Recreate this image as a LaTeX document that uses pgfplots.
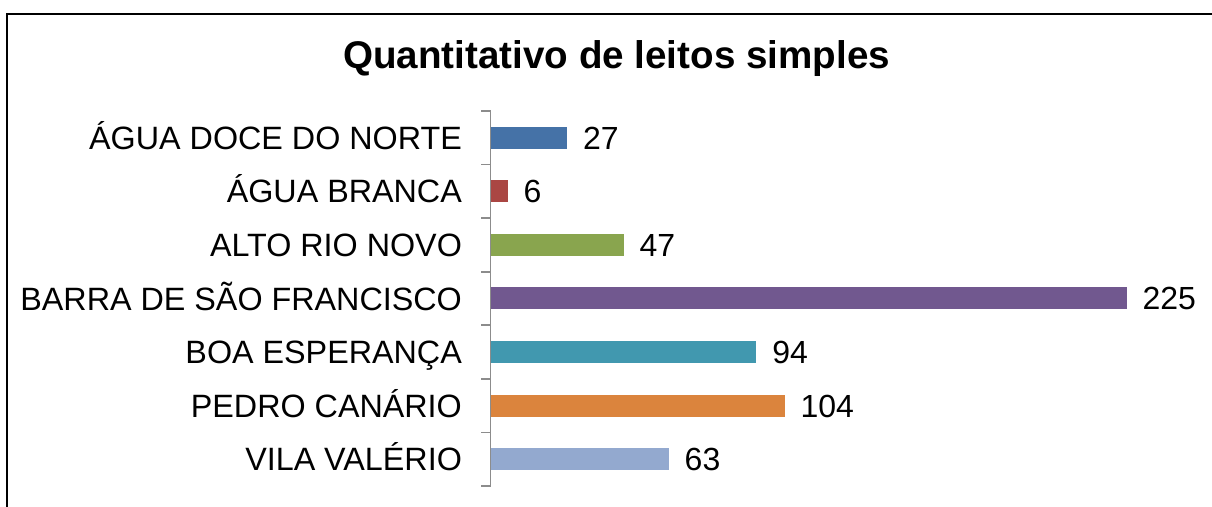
\documentclass[border=0pt]{standalone}
\usepackage{pgfplots}
\pgfplotsset{compat=1.18}
\usepackage{fontspec}
\setmainfont{Liberation Sans}
\definecolor{c1}{HTML}{4572A7}
\definecolor{c2}{HTML}{AA4643}
\definecolor{c3}{HTML}{89A54E}
\definecolor{c4}{HTML}{71588F}
\definecolor{c5}{HTML}{4198AF}
\definecolor{c6}{HTML}{DB843D}
\definecolor{c7}{HTML}{93A9CF}
\definecolor{axgray}{HTML}{8C8C8C}
\begin{document}
\begin{tikzpicture}
\useasboundingbox (0,0) rectangle (606pt,253.5pt);
\draw[line width=1pt,black] (3.4pt,-2pt) -- (3.4pt,246.6pt) -- (610pt,246.6pt);
\node[anchor=base,font=\fontsize{19.3}{23}\selectfont\bfseries,inner sep=0pt] at (308.3pt,219pt) {Quantitativo de leitos simples};
\begin{axis}[
  at={(245.35pt,10.5pt)}, anchor=south west,
  scale only axis, width=353.25pt, height=187.5pt,
  xbar, bar width=11pt,
  xmin=0, xmax=250,
  ymin=-0.5, ymax=6.5, y dir=reverse,
  axis x line=none,
  axis y line*=left,
  y axis line style={draw=axgray,line width=0.8pt},
  ytick={0,1,2,3,4,5,6},
  yticklabels={ÁGUA DOCE DO NORTE,ÁGUA BRANCA,ALTO RIO NOVO,BARRA DE SÃO FRANCISCO,BOA ESPERANÇA,PEDRO CANÁRIO,VILA VALÉRIO},
  major tick length=0pt,
  minor ytick={-0.5,0.5,1.5,2.5,3.5,4.5,5.5,6.5},
  minor tick length=4.8pt,
  tick align=outside,
  every minor tick/.style={draw=axgray,line width=0.8pt},
  yticklabel style={anchor=east,inner sep=0pt,xshift=-14.2pt,font=\fontsize{16.15}{19}\selectfont,text height=11.6pt,text depth=0pt},
  nodes near coords,
  /pgf/number format/assume math mode=true,
  every node near coord/.append style={anchor=west,inner sep=0pt,xshift=7.8pt,font=\fontsize{16}{19}\selectfont,text height=11.4pt,text depth=0pt,black},
  clip=false,
]
\addplot[fill=c1,draw=none,bar shift=0pt] coordinates {(27,0)};
\addplot[fill=c2,draw=none,bar shift=0pt] coordinates {(6,1)};
\addplot[fill=c3,draw=none,bar shift=0pt] coordinates {(47,2)};
\addplot[fill=c4,draw=none,bar shift=0pt] coordinates {(225,3)};
\addplot[fill=c5,draw=none,bar shift=0pt] coordinates {(94,4)};
\addplot[fill=c6,draw=none,bar shift=0pt] coordinates {(104,5)};
\addplot[fill=c7,draw=none,bar shift=0pt] coordinates {(63,6)};
\end{axis}
\end{tikzpicture}
\end{document}
